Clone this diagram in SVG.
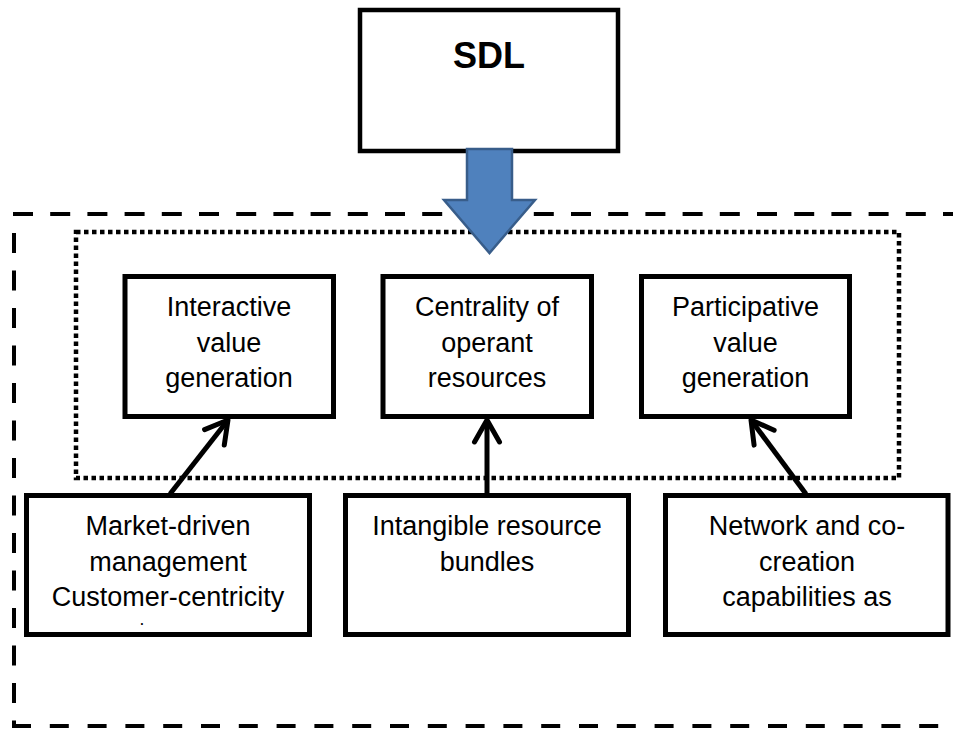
<svg xmlns="http://www.w3.org/2000/svg" width="953" height="729" viewBox="0 0 953 729">
<style>
.box{fill:#fff;stroke:#000;stroke-width:5}
.lbl{font-family:"Liberation Sans",Arial,sans-serif;font-size:27px;fill:#000;text-anchor:middle}
.dash{fill:none;stroke:#000;stroke-width:4;stroke-dasharray:20 17.2}
.dot{fill:none;stroke:#000;stroke-width:4.5;stroke-dasharray:4.5 3.5}
.conn{fill:none;stroke:#000;stroke-width:5;marker-end:url(#ah)}
</style>
<defs>
<marker id="ah" markerUnits="userSpaceOnUse" viewBox="-30 -20 40 40" markerWidth="40" markerHeight="40" refX="0" refY="0" orient="auto">
<path d="M-22,-12.5 L0,0 L-22,12.5" fill="none" stroke="#000" stroke-width="5" stroke-linecap="round" stroke-linejoin="round"/>
</marker>
</defs>
<rect width="953" height="729" fill="#fff"/>
<g id="outer-frame">
<path class="dash" d="M13,214 H960"/>
<path class="dash" d="M14,233 V726" style="stroke-dasharray:20 17.5"/>
<path class="dash" d="M12,726 H960" style="stroke-dasharray:19 18.8"/>
</g>
<g id="inner-frame">
<path class="dot" d="M76,232 H899 V478 H76 Z"/>
</g>
<g id="sdl">
<rect x="360" y="10" width="258" height="141" fill="#fff" stroke="#000" stroke-width="4.5"/>
<text x="489" y="68" style="font-family:'Liberation Sans',Arial,sans-serif;font-size:36px;font-weight:bold;text-anchor:middle">SDL</text>
</g>
<g id="n-interactive">
<rect class="box" x="125" y="276.5" width="208.5" height="140"/>
<text class="lbl" x="229" y="316">Interactive</text>
<text class="lbl" x="229" y="351.5">value</text>
<text class="lbl" x="229" y="387">generation</text>
</g>
<g id="n-centrality">
<rect class="box" x="383" y="276.5" width="208.5" height="140"/>
<text class="lbl" x="487" y="316">Centrality of</text>
<text class="lbl" x="487" y="351.5">operant</text>
<text class="lbl" x="487" y="387">resources</text>
</g>
<g id="n-participative">
<rect class="box" x="641.5" y="276.5" width="208" height="140"/>
<text class="lbl" x="745.5" y="316">Participative</text>
<text class="lbl" x="745.5" y="351.5">value</text>
<text class="lbl" x="745.5" y="387">generation</text>
</g>
<g id="n-market">
<rect class="box" x="26.5" y="495.5" width="283" height="139"/>
<text class="lbl" x="168" y="535">Market-driven</text>
<text class="lbl" x="168" y="570.5">management</text>
<text class="lbl" x="168" y="606">Customer-centricity</text>
<text class="lbl" x="142" y="625" style="font-size:12px;font-weight:bold">.</text>
</g>
<g id="n-intangible">
<rect class="box" x="345.5" y="495.5" width="283" height="139"/>
<text class="lbl" x="487" y="535">Intangible resource</text>
<text class="lbl" x="487" y="570.5">bundles</text>
</g>
<g id="n-network">
<rect class="box" x="665.5" y="495.5" width="282.5" height="139"/>
<text class="lbl" x="807" y="535">Network and co-</text>
<text class="lbl" x="807" y="570.5">creation</text>
<text class="lbl" x="807" y="606">capabilities as</text>
</g>
<g id="connectors">
<line class="conn" x1="170" y1="494" x2="228" y2="420"/>
<line class="conn" x1="487" y1="494" x2="487" y2="420"/>
<line class="conn" x1="806" y1="494" x2="751" y2="420"/>
<polygon points="467,149 512,149 512,200 535,200 489.5,253 444,200 467,200" fill="#4F81BD" stroke="#385D8A" stroke-width="2.5" stroke-linejoin="miter"/>
</g>
</svg>
